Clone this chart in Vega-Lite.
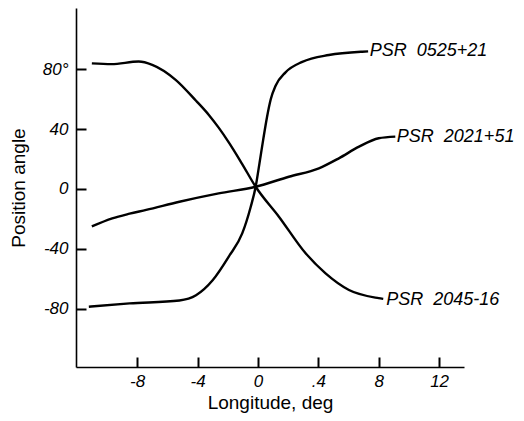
{
  "$schema": "https://vega.github.io/schema/vega-lite/v6.json",
  "width": 388,
  "height": 359,
  "autosize": {"type": "none"},
  "padding": {"left": 76, "top": 8, "right": 60, "bottom": 54},
  "background": "white",
  "config": {
    "view": {"stroke": null},
    "font": "Liberation Sans"
  },
  "datasets": {
    "curves": [
      {"pulsar": "0525+21", "lon": -11.2, "pa": -78.7},
      {"pulsar": "0525+21", "lon": -8.5, "pa": -76.5},
      {"pulsar": "0525+21", "lon": -5.2, "pa": -74.5},
      {"pulsar": "0525+21", "lon": -4.1, "pa": -71},
      {"pulsar": "0525+21", "lon": -3.0, "pa": -61},
      {"pulsar": "0525+21", "lon": -1.92, "pa": -45},
      {"pulsar": "0525+21", "lon": -1.04, "pa": -29.7},
      {"pulsar": "0525+21", "lon": -0.48, "pa": -12},
      {"pulsar": "0525+21", "lon": -0.15, "pa": 1.5},
      {"pulsar": "0525+21", "lon": 0.1, "pa": 17},
      {"pulsar": "0525+21", "lon": 0.35, "pa": 33},
      {"pulsar": "0525+21", "lon": 0.6, "pa": 48},
      {"pulsar": "0525+21", "lon": 0.85, "pa": 60},
      {"pulsar": "0525+21", "lon": 1.17, "pa": 69},
      {"pulsar": "0525+21", "lon": 1.83, "pa": 78},
      {"pulsar": "0525+21", "lon": 2.94, "pa": 85},
      {"pulsar": "0525+21", "lon": 4.7, "pa": 89.6},
      {"pulsar": "0525+21", "lon": 6.9, "pa": 91.8},
      {"pulsar": "0525+21", "lon": 7.3, "pa": 92},
      {"pulsar": "2021+51", "lon": -11.0, "pa": -25},
      {"pulsar": "2021+51", "lon": -9.65, "pa": -19.6},
      {"pulsar": "2021+51", "lon": -8.5, "pa": -16.5},
      {"pulsar": "2021+51", "lon": -7.4, "pa": -14},
      {"pulsar": "2021+51", "lon": -5.2, "pa": -8.5},
      {"pulsar": "2021+51", "lon": -2.6, "pa": -2.9},
      {"pulsar": "2021+51", "lon": -0.15, "pa": 1.5},
      {"pulsar": "2021+51", "lon": 2.05, "pa": 8.2},
      {"pulsar": "2021+51", "lon": 4.04, "pa": 13.8},
      {"pulsar": "2021+51", "lon": 5.36, "pa": 20.5},
      {"pulsar": "2021+51", "lon": 6.7, "pa": 28.3},
      {"pulsar": "2021+51", "lon": 8.0, "pa": 33.9},
      {"pulsar": "2021+51", "lon": 9.1, "pa": 35},
      {"pulsar": "2045-16", "lon": -11.0, "pa": 84},
      {"pulsar": "2045-16", "lon": -9.7, "pa": 83.5},
      {"pulsar": "2045-16", "lon": -7.9, "pa": 85.2},
      {"pulsar": "2045-16", "lon": -7.0, "pa": 83},
      {"pulsar": "2045-16", "lon": -5.45, "pa": 73},
      {"pulsar": "2045-16", "lon": -4.1, "pa": 59},
      {"pulsar": "2045-16", "lon": -3.25, "pa": 49.5},
      {"pulsar": "2045-16", "lon": -2.6, "pa": 41},
      {"pulsar": "2045-16", "lon": -1.92, "pa": 31},
      {"pulsar": "2045-16", "lon": -1.06, "pa": 17},
      {"pulsar": "2045-16", "lon": -0.15, "pa": 1.5},
      {"pulsar": "2045-16", "lon": 1.39, "pa": -18.5},
      {"pulsar": "2045-16", "lon": 3.16, "pa": -43},
      {"pulsar": "2045-16", "lon": 4.48, "pa": -56.4},
      {"pulsar": "2045-16", "lon": 6.03, "pa": -67.5},
      {"pulsar": "2045-16", "lon": 8.0, "pa": -73},
      {"pulsar": "2045-16", "lon": 8.3, "pa": -73.5}
    ],
    "labels": [
      {"label": "PSR\u00a0\u00a00525+21", "lon": 7.4, "pa": 92},
      {"label": "PSR\u00a0\u00a02021+51", "lon": 9.2, "pa": 35},
      {"label": "PSR\u00a0\u00a02045-16", "lon": 8.5, "pa": -74}
    ]
  },
  "resolve": {"axis": {"x": "independent", "y": "independent"}},
  "layer": [
    {
      "data": {"name": "curves"},
      "mark": {"type": "line", "color": "black", "strokeWidth": 2.4, "interpolate": "monotone"},
      "encoding": {
        "x": {
          "field": "lon", "type": "quantitative",
          "scale": {"domain": [-12.05, 13.65], "nice": false, "zero": false},
          "axis": {
            "title": "Longitude, deg",
            "values": [-8, -4, 0, 4, 8, 12],
            "labelExpr": "datum.value == 4 ? '.4' : toString(datum.value)",
            "grid": false, "ticks": false,
            "domainColor": "black", "domainWidth": 1.6,
            "labelFont": "Liberation Sans", "labelFontStyle": "italic", "labelFontSize": 17,
            "labelColor": "black", "labelPadding": 6,
            "titleFont": "Liberation Sans", "titleFontSize": 19, "titleFontWeight": "normal",
            "titleColor": "black", "titlePadding": 4
          }
        },
        "y": {
          "field": "pa", "type": "quantitative",
          "scale": {"domain": [-119, 121], "nice": false, "zero": false},
          "axis": {
            "title": "Position angle",
            "values": [-80, -40, 0, 40, 80],
            "labelExpr": "datum.value == 80 ? '80°' : toString(datum.value)",
            "grid": false, "ticks": false,
            "domainColor": "black", "domainWidth": 1.6,
            "labelFont": "Liberation Sans", "labelFontStyle": "italic", "labelFontSize": 17,
            "labelColor": "black", "labelPadding": 8,
            "titleFont": "Liberation Sans", "titleFontSize": 19, "titleFontWeight": "normal",
            "titleColor": "black", "titlePadding": 14
          }
        },
        "detail": {"field": "pulsar", "type": "nominal"}
      }
    },
    {
      "data": {"name": "labels"},
      "mark": {"type": "text", "align": "left", "baseline": "middle", "font": "Liberation Sans", "fontStyle": "italic", "fontSize": 18, "color": "black"},
      "encoding": {
        "x": {
          "field": "lon", "type": "quantitative",
          "axis": {
            "orient": "bottom", "offset": -10, "values": [-8, -4, 0, 4, 8, 12],
            "domain": false, "labels": false, "title": null, "grid": false,
            "ticks": true, "tickSize": 10, "tickColor": "black", "tickWidth": 2, "tickOpacity": 1
          }
        },
        "y": {
          "field": "pa", "type": "quantitative",
          "axis": {
            "orient": "left", "offset": -10, "values": [-80, -40, 0, 40, 80],
            "domain": false, "labels": false, "title": null, "grid": false,
            "ticks": true, "tickSize": 10, "tickColor": "black", "tickWidth": 2, "tickOpacity": 1
          }
        },
        "text": {"field": "label", "type": "nominal"}
      }
    }
  ]
}
